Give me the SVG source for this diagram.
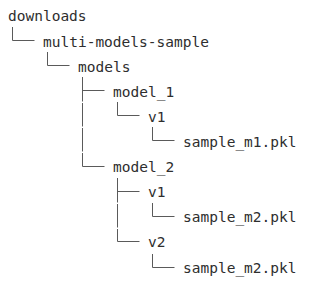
<svg xmlns="http://www.w3.org/2000/svg" width="311" height="284" viewBox="0 0 311 284">
<style>
.t{font-family:"DejaVu Sans Mono","Liberation Mono",monospace;font-size:14.5px;fill:#2e2e2e}
.c{stroke:#5a5a5a;stroke-width:1;fill:none}
</style>
<rect width="311" height="284" fill="#fff"/>
<g id="connectors" class="c">
<path d="M12.5 27V40.5H34.5"/>
<path d="M47.5 52V65.5H69.5"/>
<path d="M82.5 77V101.5M82.5 90.5H104.5"/>
<path d="M82.5 103V126.5"/>
<path d="M117.5 102V115.5H139.5"/>
<path d="M82.5 128V151.5"/>
<path d="M152.5 127V140.5H174.5"/>
<path d="M82.5 153V166.5H104.5"/>
<path d="M117.5 178V202.5M117.5 191.5H139.5"/>
<path d="M117.5 204V227.5"/>
<path d="M152.5 203V216.5H174.5"/>
<path d="M117.5 229V241.5H139.5"/>
<path d="M152.5 254V267.5H174.5"/>
</g>
<g id="downloads"><text class="t" x="8" y="20.5">downloads</text></g>
<g id="multi-models-sample"><text class="t" x="43" y="46.5">multi-models-sample</text></g>
<g id="models"><text class="t" x="78" y="71.5">models</text></g>
<g id="model_1"><text class="t" x="113" y="96.5">model_1</text></g>
<g id="model_1-v1"><text class="t" x="148" y="121.5">v1</text></g>
<g id="model_1-v1-sample"><text class="t" x="183" y="146.5">sample_m1.pkl</text></g>
<g id="model_2"><text class="t" x="113" y="172">model_2</text></g>
<g id="model_2-v1"><text class="t" x="148" y="197">v1</text></g>
<g id="model_2-v1-sample"><text class="t" x="183" y="222">sample_m2.pkl</text></g>
<g id="model_2-v2"><text class="t" x="148" y="247">v2</text></g>
<g id="model_2-v2-sample"><text class="t" x="183" y="273">sample_m2.pkl</text></g>
</svg>
